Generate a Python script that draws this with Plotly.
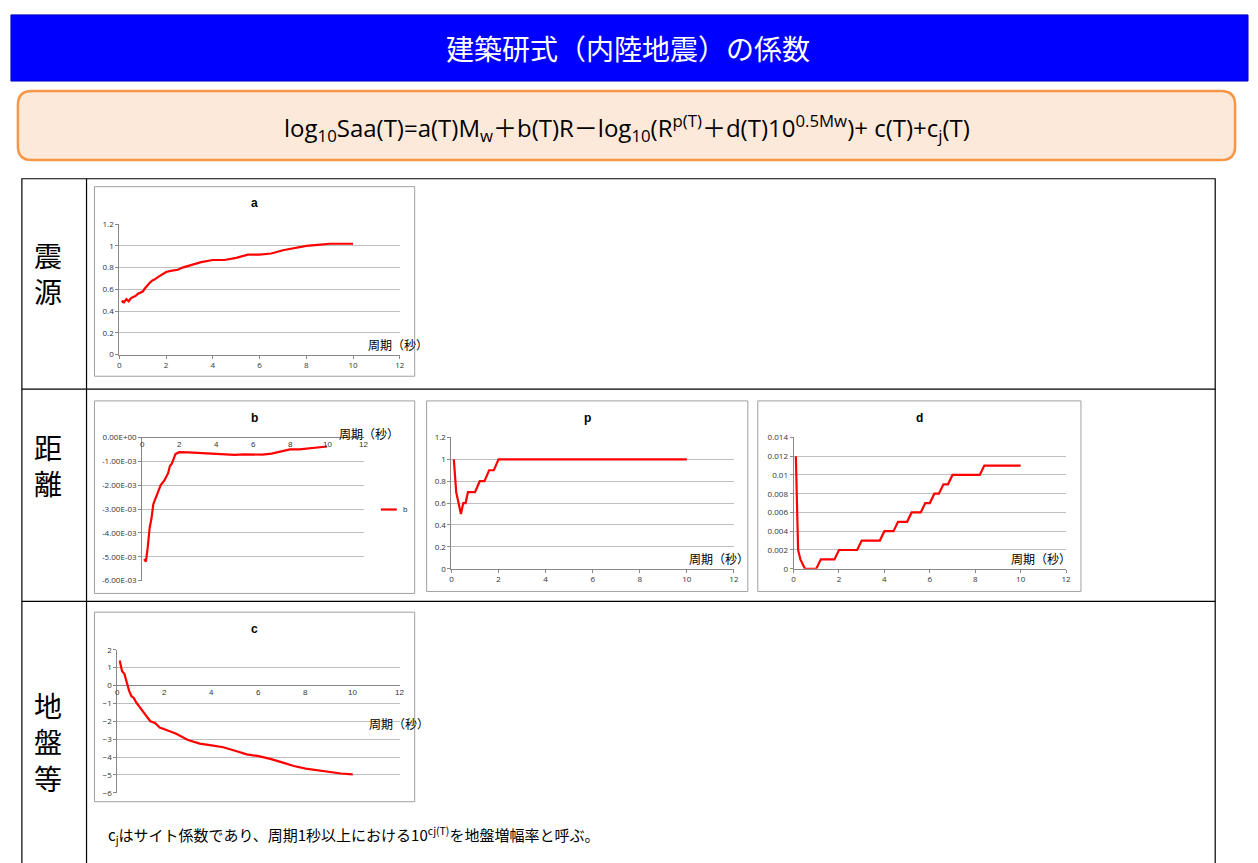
import plotly.graph_objects as go

W, H = 1258, 863
def px(x): return x / W
def py(y): return 1 - y / H

# ---- data ----
T_a = [0.1,0.15,0.2,0.25,0.3,0.4,0.5,0.6,0.7,0.8,0.9,1.0,1.1,1.2,1.3,1.4,1.5,1.7,2.0,2.2,2.5,2.7,3.0,3.5,4.0,4.5,5.0,5.5,6.0,6.5,7.0,7.5,8.0,8.5,9.0,9.5,10]
a_vals = [0.48,0.49,0.48,0.50,0.51,0.49,0.52,0.53,0.54,0.56,0.57,0.58,0.61,0.64,0.66,0.68,0.69,0.72,0.76,0.77,0.78,0.80,0.82,0.85,0.87,0.87,0.89,0.92,0.92,0.93,0.96,0.98,1.00,1.01,1.02,1.02,1.02]
T_b = [0.1,0.2,0.3,0.4,0.5,0.6,0.7,0.8,1.0,1.2,1.4,1.5,1.6,1.8,2.0,2.5,3,3.5,4,4.5,5,5.5,6,6.5,7,7.5,8,8.5,9,9.5,10]
b_vals = [-5.1e-3,-5.2e-3,-4.6e-3,-3.8e-3,-3.4e-3,-2.8e-3,-2.6e-3,-2.4e-3,-2.0e-3,-1.8e-3,-1.5e-3,-1.2e-3,-1.1e-3,-0.7e-3,-0.62e-3,-0.63e-3,-0.65e-3,-0.7e-3,-0.72e-3,-0.72e-3,-0.73e-3,-0.71e-3,-0.73e-3,-0.72e-3,-0.68e-3,-0.6e-3,-0.5e-3,-0.5e-3,-0.45e-3,-0.4e-3,-0.38e-3]
b_tickvals = [0,-0.001,-0.002,-0.003,-0.004,-0.005,-0.006]
b_ticktext = ["0.00E+00","-1.00E-03","-2.00E-03","-3.00E-03","-4.00E-03","-5.00E-03","-6.00E-03"]
T_p = [0.1,0.2,0.3,0.4,0.5,0.6,0.7,0.8,1.0,1.2,1.4,1.6,1.8,2.0,10]
p_vals = [1,0.7,0.6,0.5,0.6,0.6,0.7,0.7,0.7,0.8,0.8,0.9,0.9,1,1]
T_d = [0.1,0.2,0.3,0.5,1.0,1.2,1.8,2.0,2.8,3.0,3.8,4.0,4.4,4.6,5.0,5.2,5.6,5.8,6.0,6.2,6.4,6.6,6.8,7.0,8.2,8.4,10]
d_vals = [0.012,0.002,0.001,0,0,0.001,0.001,0.002,0.002,0.003,0.003,0.004,0.004,0.005,0.005,0.006,0.006,0.007,0.007,0.008,0.008,0.009,0.009,0.010,0.010,0.011,0.011]
T_c = [0.1,0.2,0.3,0.4,0.5,0.6,0.7,0.8,1.0,1.2,1.4,1.6,1.8,2.0,2.5,3,3.5,4,4.5,5,5.5,6,6.5,7,7.5,8,8.5,9,9.5,10]
c_vals = [1.4,0.8,0.65,0.1,-0.3,-0.6,-0.7,-0.95,-1.3,-1.6,-2.0,-2.1,-2.35,-2.45,-2.7,-3.05,-3.25,-3.35,-3.45,-3.65,-3.85,-3.95,-4.1,-4.3,-4.5,-4.65,-4.75,-4.85,-4.92,-4.97]
x_ticks = [0,2,4,6,8,10,12]

FONT = "Noto Sans CJK JP"
fig = go.Figure()
shapes, anns = [], []

def ann(x, y, text, size, color="#000", family=FONT, **kw):
    d = dict(x=px(x), y=py(y), xref="paper", yref="paper", text=text, showarrow=False,
             xanchor="center", yanchor="middle", font=dict(size=size, color=color, family=family))
    d.update(kw)
    anns.append(d)

charts = [
    ("a", T_a, a_vals, (93,183,415,375), (118,400,221,353), [0,1.2], 0.2, (398,343)),
    ("b", T_b, b_vals, (93,400,415,595), (141,364,437,582), [-0.006,0], 0.001, (369,433)),
    ("p", T_p, p_vals, (427,400,750,593), (452,736,437,570), [0,1.2], 0.2, (721,560)),
    ("d", T_d, d_vals, (760,400,1085,593), (796,1070,437,570), [0,0.014], 0.002, (1045,560)),
    ("c", T_c, c_vals, (93,614,415,806), (116,400,652,797), [-6,2], 1, (399,727)),
]
for i, (name, T, v, box, pa, yr, dt, lab) in enumerate(charts):
    k = "" if i == 0 else str(i + 1)
    fig.add_trace(go.Scatter(x=T, y=v, mode="lines", line=dict(color="#FF0000", width=2.2),
                             xaxis="x" + k, yaxis="y" + k, name=name, showlegend=False))
    shapes.append(dict(type="rect", xref="paper", yref="paper", x0=px(box[0]), x1=px(box[2]),
                       y0=py(box[3]), y1=py(box[1]), line=dict(color="#A0A0A0", width=1), fillcolor="white", layer="below"))
    inner = yr[1] == 0 or yr[0] < 0 < yr[1]
    xa = dict(domain=[px(pa[0]), px(pa[1])], range=[0, 12], dtick=2, showgrid=False,
              anchor="y" + k, tickfont=dict(size=8, color="#333"), ticks="outside", ticklen=3,
              tickcolor="#888", showline=not inner, linecolor="#888", zeroline=False)
    if inner:
        xa["showticklabels"] = False
        xa["ticks"] = ""
        for t in x_ticks:
            anns.append(dict(x=t, y=0, xref="x" + k, yref="y" + k, text=str(t), showarrow=False,
                             xanchor="center", yanchor="top", yshift=-1,
                             font=dict(size=8, color="#333", family="Arial")))
    ya = dict(domain=[py(pa[3]), py(pa[2])], range=yr, dtick=dt, anchor="x" + k,
              showgrid=True, gridcolor="#BFBFBF", gridwidth=1, showline=True, linecolor="#888",
              ticks="outside", ticklen=3, tickcolor="#888", tickfont=dict(size=8, color="#333"),
              zeroline=inner, zerolinecolor="#888", zerolinewidth=1)
    if name == "b":
        ya["tickvals"] = b_tickvals
        ya["ticktext"] = b_ticktext
    fig.update_layout(**{"xaxis" + k: xa, "yaxis" + k: ya})
    ann((box[0] + box[2]) / 2, box[1] + 17, "<b>%s</b>" % name, 12, family="Arial")
    ann(lab[0], lab[1], "周期（秒）", 12)

# legend for b
shapes.append(dict(type="line", xref="paper", yref="paper", x0=px(381), x1=px(397), y0=py(510), y1=py(510),
                   line=dict(color="#FF0000", width=2.2)))
ann(401, 510, "b", 8, color="#333", family="Arial", xanchor="left")

# header
shapes.append(dict(type="rect", xref="paper", yref="paper", x0=px(9), x1=px(1253), y0=py(76), y1=py(9),
                   fillcolor="#0000FF", line=dict(color="#0000CC", width=1), layer="below"))
ann(629, 43, "建築研式（内陸地震）の係数", 28, color="white")
# formula box
shapes.append(dict(type="path", xref="paper", yref="paper", layer="below",
                   path="M %f %f L %f %f Q %f %f %f %f L %f %f Q %f %f %f %f L %f %f Q %f %f %f %f L %f %f Q %f %f %f %f Z" % (
                       px(30), py(86), px(1226), py(86), px(1240), py(86), px(1240), py(100),
                       px(1240), py(142), px(1240), py(156), px(1226), py(156),
                       px(30), py(156), px(16), py(156), px(16), py(142),
                       px(16), py(100), px(16), py(86), px(30), py(86)),
                   fillcolor="#FDE9D9", line=dict(color="#F79646", width=2.5)))
ann(628, 124, "log<sub>10</sub>Saa(T)=a(T)M<sub>w</sub>＋b(T)R－log<sub>10</sub>(R<sup>p(T)</sup>＋d(T)10<sup>0.5Mw</sup>)+ c(T)+c<sub>j</sub>(T)",
    24, family="Open Sans, Noto Sans CJK JP")
# table
tl = dict(color="#000", width=1.2)
shapes.append(dict(type="rect", xref="paper", yref="paper", x0=px(20), x1=px(1220), y0=py(870), y1=py(175), line=tl, layer="below"))
shapes.append(dict(type="line", xref="paper", yref="paper", x0=px(85), x1=px(85), y0=py(870), y1=py(175), line=tl))
for yy in (388, 603):
    shapes.append(dict(type="line", xref="paper", yref="paper", x0=px(20), x1=px(1220), y0=py(yy), y1=py(yy), line=tl))
for txt, yy in (("震<br>源", 270), ("距<br>離", 465), ("地<br>盤<br>等", 745)):
    ann(46, yy, txt, 28)
ann(105, 840, "c<sub>j</sub>はサイト係数であり、周期1秒以上における10<sup>cj(T)</sup>を地盤増幅率と呼ぶ。", 15, xanchor="left")

fig.update_layout(width=W, height=H, margin=dict(l=0, r=0, t=0, b=0), paper_bgcolor="white",
                  plot_bgcolor="rgba(0,0,0,0)", shapes=shapes, annotations=anns, showlegend=False)
fig.write_html("out.html", config={"displayModeBar": False},
               post_script="document.documentElement.style.overflow='hidden';document.body.style.margin='0';document.body.style.overflow='hidden';")
